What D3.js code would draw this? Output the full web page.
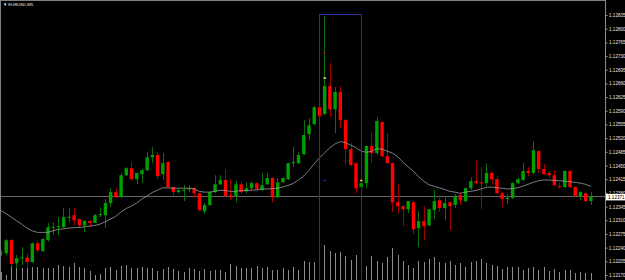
<!DOCTYPE html>
<html>
<head>
<meta charset="utf-8">
<script src="https://cdn.jsdelivr.net/npm/d3@7"></script>
<style>
  body { margin: 0; background: #000; }
  svg { display: block; }
</style>
</head>
<body>
<div id="chart"></div>
<script>
var width = 625,
    height = 280,
    axisX = 605;

// EURUSD M5 bars, oldest first
var open = [1.12226,1.12226,1.12259,1.12200,1.12213,1.12215,1.12203,1.12251,1.12231,1.12259,
1.12292,1.12292,1.12292,1.12318,1.12323,1.12313,1.12297,1.12308,1.12303,1.12323,
1.12323,1.12354,1.12382,1.12369,1.12425,1.12443,1.12415,1.12428,1.12438,1.12471,
1.12477,1.12428,1.12459,1.12395,1.12382,1.12387,1.12390,1.12392,1.12379,1.12333,
1.12349,1.12382,1.12402,1.12413,1.12374,1.12372,1.12402,1.12384,1.12392,1.12405,
1.12387,1.12402,1.12418,1.12369,1.12407,1.12415,1.12456,1.12456,1.12479,1.12530,
1.12556,1.12599,1.12582,1.12653,1.12594,1.12638,1.12566,1.12492,1.12456,1.12395,
1.12405,1.12500,1.12482,1.12561,1.12474,1.12456,1.12356,1.12346,1.12338,1.12356,
1.12290,1.12308,1.12297,1.12336,1.12361,1.12341,1.12356,1.12349,1.12374,1.12359,
1.12392,1.12410,1.12407,1.12405,1.12431,1.12415,1.12379,1.12364,1.12367,1.12405,
1.12413,1.12436,1.12431,1.12487,1.12441,1.12431,1.12425,1.12397,1.12395,1.12436,
1.12395,1.12372,1.12379,1.12359];

var high = [1.12233,1.12262,1.12262,1.12221,1.12241,1.12226,1.12254,1.12259,1.12264,1.12303,
1.12305,1.12318,1.12341,1.12341,1.12343,1.12315,1.12310,1.12310,1.12326,1.12343,
1.12364,1.12392,1.12392,1.12431,1.12446,1.12459,1.12431,1.12441,1.12484,1.12497,
1.12482,1.12482,1.12461,1.12397,1.12390,1.12400,1.12400,1.12395,1.12380,1.12354,
1.12384,1.12425,1.12425,1.12441,1.12415,1.12410,1.12410,1.12407,1.12410,1.12407,
1.12431,1.12431,1.12420,1.12418,1.12420,1.12456,1.12497,1.12484,1.12566,1.12571,
1.12602,1.12602,1.12832,1.12712,1.12651,1.12653,1.12569,1.12507,1.12458,1.12425,
1.12502,1.12535,1.12574,1.12564,1.12533,1.12458,1.12402,1.12349,1.12359,1.12361,
1.12333,1.12346,1.12338,1.12387,1.12374,1.12372,1.12358,1.12377,1.12379,1.12395,
1.12420,1.12464,1.12446,1.12456,1.12433,1.12425,1.12384,1.12377,1.12407,1.12420,
1.12456,1.12446,1.12512,1.12489,1.12454,1.12436,1.12438,1.12407,1.12438,1.12438,
1.12397,1.12384,1.12382,1.12382];

var low = [1.12218,1.12221,1.12192,1.12187,1.12195,1.12190,1.12200,1.12228,1.12228,1.12256,
1.12274,1.12272,1.12290,1.12305,1.12297,1.12290,1.12279,1.12292,1.12303,1.12318,
1.12290,1.12343,1.12367,1.12369,1.12423,1.12413,1.12402,1.12405,1.12436,1.12456,
1.12415,1.12413,1.12395,1.12372,1.12379,1.12359,1.12382,1.12369,1.12333,1.12326,
1.12346,1.12379,1.12400,1.12369,1.12361,1.12356,1.12379,1.12379,1.12387,1.12384,
1.12384,1.12400,1.12356,1.12367,1.12405,1.12413,1.12446,1.12454,1.12477,1.12515,
1.12553,1.12574,1.12579,1.12574,1.12533,1.12546,1.12451,1.12448,1.12379,1.12392,
1.12392,1.12456,1.12477,1.12471,1.12454,1.12331,1.12328,1.12295,1.12328,1.12274,
1.12241,1.12259,1.12295,1.12313,1.12331,1.12310,1.12285,1.12341,1.12349,1.12356,
1.12387,1.12402,1.12338,1.12397,1.12400,1.12377,1.12343,1.12351,1.12364,1.12402,
1.12410,1.12423,1.12428,1.12431,1.12425,1.12418,1.12397,1.12392,1.12392,1.12392,
1.12369,1.12361,1.12356,1.12349];

var close = [1.12226,1.12259,1.12198,1.12213,1.12215,1.12203,1.12251,1.12233,1.12262,1.12292,
1.12293,1.12295,1.12318,1.12319,1.12310,1.12297,1.12308,1.12303,1.12323,1.12326,
1.12354,1.12382,1.12369,1.12425,1.12443,1.12415,1.12431,1.12438,1.12471,1.12477,
1.12423,1.12456,1.12395,1.12382,1.12387,1.12388,1.12391,1.12379,1.12336,1.12349,
1.12382,1.12402,1.12413,1.12372,1.12369,1.12402,1.12382,1.12392,1.12405,1.12390,
1.12400,1.12418,1.12369,1.12407,1.12418,1.12456,1.12459,1.12477,1.12528,1.12553,
1.12599,1.12576,1.12653,1.12594,1.12638,1.12566,1.12492,1.12451,1.12392,1.12405,
1.12500,1.12482,1.12564,1.12474,1.12456,1.12356,1.12346,1.12338,1.12359,1.12287,
1.12308,1.12295,1.12338,1.12359,1.12341,1.12354,1.12346,1.12372,1.12361,1.12392,
1.12410,1.12405,1.12405,1.12431,1.12415,1.12379,1.12364,1.12367,1.12405,1.12415,
1.12436,1.12431,1.12489,1.12441,1.12428,1.12425,1.12400,1.12395,1.12436,1.12395,
1.12372,1.12382,1.12359,1.12371];

var volume = [80,50,140,120,120,120,130,130,120,120,
120,150,140,130,170,130,120,90,50,60,
120,130,100,140,150,120,120,130,120,120,
90,110,130,110,90,80,120,110,90,110,
90,100,100,80,160,140,120,120,120,140,
120,130,100,100,120,100,130,100,190,180,
180,120,350,290,270,280,240,200,250,150,
140,240,190,170,230,320,250,190,150,120,
190,180,210,230,180,170,190,150,170,130,
180,190,210,170,150,140,110,130,130,130,
100,120,130,100,130,90,110,80,100,100,
70,80,70,70];

// moving average line
var ma = [1.12335,1.12327,1.12318,1.12309,1.12300,1.12290,1.12283,1.12279,1.12279,1.12279,
1.12283,1.12287,1.12288,1.12290,1.12291,1.12292,1.12293,1.12295,1.12297,1.12300,
1.12306,1.12313,1.12320,1.12331,1.12340,1.12346,1.12354,1.12364,1.12372,1.12381,
1.12387,1.12393,1.12393,1.12392,1.12392,1.12392,1.12392,1.12391,1.12384,1.12382,
1.12382,1.12384,1.12387,1.12386,1.12384,1.12384,1.12386,1.12386,1.12387,1.12388,
1.12390,1.12390,1.12391,1.12392,1.12395,1.12399,1.12404,1.12413,1.12423,1.12437,
1.12454,1.12469,1.12482,1.12495,1.12505,1.12511,1.12509,1.12502,1.12496,1.12487,
1.12484,1.12486,1.12493,1.12492,1.12487,1.12482,1.12473,1.12459,1.12447,1.12436,
1.12422,1.12410,1.12401,1.12397,1.12393,1.12389,1.12384,1.12382,1.12379,1.12382,
1.12384,1.12386,1.12390,1.12394,1.12395,1.12393,1.12392,1.12390,1.12391,1.12393,
1.12397,1.12402,1.12407,1.12411,1.12413,1.12413,1.12412,1.12411,1.12410,1.12409,
1.12407,1.12405,1.12402,1.12397];

var priceTicks = [1.12835,1.12800,1.12765,1.12730,1.12695,1.12660,1.12625,1.12590,1.12555,1.12520,
1.12485,1.12450,1.12415,1.12380,1.12345,1.12310,1.12275,1.12240,1.12205,1.12170];

var bid = 1.12371;
var symbol = "EURUSD,M5";

// rectangle object: bar index range and price range
var rectBars = [62, 70];
var rectPrices = [1.12837, 1.12150];

// small trade marks: bar, price, colour
var markBars = [63, 63, 63, 70];
var markPrices = [1.12737, 1.12673, 1.12411, 1.12411];
var markColors = ["#c00000", "#ffd0d0", "#2020c0", "#ffb060"];

var svg = d3.select("#chart").append("svg")
    .attr("width", width)
    .attr("height", height)
    .style("background", "#000");

var x = d3.scaleLinear().domain([1, 114]).range([0.8, 590.7]);
var y = d3.scaleLinear().domain([1.12170, 1.12835]).range([275, 15]);
var vy = d3.scaleLinear().domain([0, 400]).range([280, 240]);

var idx = d3.range(open.length);
var px = function(i) { return Math.round(x(i + 1)) + 0.5; };

// volumes
svg.append("g")
    .selectAll("line")
    .data(idx)
    .enter().append("line")
    .attr("x1", px).attr("x2", px)
    .attr("y1", vy(0))
    .attr("y2", function(i) { return vy(volume[i]); })
    .attr("stroke", "#8c8c8c")
    .attr("stroke-width", 1);

// bid line
svg.append("line")
    .attr("x1", 0).attr("x2", axisX)
    .attr("y1", Math.round(y(bid)) + 0.5).attr("y2", Math.round(y(bid)) + 0.5)
    .attr("stroke", "#666666")
    .attr("stroke-width", 1);

var up = function(i) { return close[i] >= open[i]; };

// wicks
svg.append("g")
    .selectAll("line")
    .data(idx)
    .enter().append("line")
    .attr("x1", px).attr("x2", px)
    .attr("y1", function(i) { return y(high[i]); })
    .attr("y2", function(i) { return y(low[i]); })
    .attr("stroke", function(i) { return up(i) ? "#0a700a" : "#a00000"; })
    .attr("stroke-width", 1);

// bodies
var bw = 3.4;
svg.append("g")
    .selectAll("rect")
    .data(idx)
    .enter().append("rect")
    .attr("x", function(i) { return x(i + 1) - bw / 2 + 0.2; })
    .attr("width", bw)
    .attr("y", function(i) { return y(Math.max(open[i], close[i])); })
    .attr("height", function(i) { return Math.max(1, Math.abs(y(open[i]) - y(close[i]))); })
    .attr("fill", function(i) { return up(i) ? "#00a000" : "#ff0000"; });

// moving average
svg.append("path")
    .datum(idx)
    .attr("d", d3.line()
        .x(function(i) { return x(i + 1); })
        .y(function(i) { return y(ma[i]); }))
    .attr("fill", "none")
    .attr("stroke", "#9c9c9c")
    .attr("stroke-width", 0.8);

// rectangle
svg.append("rect")
    .attr("x", Math.round(x(rectBars[0])) + 0.5)
    .attr("y", Math.round(y(rectPrices[0])) + 0.5)
    .attr("width", Math.round(x(rectBars[1]) - x(rectBars[0])))
    .attr("height", y(rectPrices[1]) - y(rectPrices[0]))
    .attr("fill", "none")
    .attr("stroke", "#2c2ca4")
    .attr("stroke-width", 1);

// trade marks
svg.append("g")
    .selectAll("rect")
    .data(markBars)
    .enter().append("rect")
    .attr("x", function(d) { return x(d) - 1; })
    .attr("y", function(d, i) { return y(markPrices[i]) - 1; })
    .attr("width", 2.5)
    .attr("height", 1.5)
    .attr("fill", function(d, i) { return markColors[i]; });

// price axis
var axis = d3.axisRight(y)
    .tickValues(priceTicks)
    .tickFormat(d3.format(".5f"))
    .tickSize(2)
    .tickPadding(1.5);

var ga = svg.append("g")
    .attr("transform", "translate(" + (axisX + 0.5) + ",0)")
    .call(axis);
ga.select(".domain").remove();
ga.selectAll(".tick line").attr("stroke", "#9a9a9a");
ga.selectAll(".tick text")
    .attr("fill", "#e4e4e4")
    .style("font-family", "Liberation Sans, Arial, sans-serif")
    .style("font-size", "4.6px");

svg.append("line")
    .attr("x1", axisX + 0.5).attr("x2", axisX + 0.5)
    .attr("y1", 0).attr("y2", height)
    .attr("stroke", "#8c8c8c")
    .attr("stroke-width", 1);

// bid label
svg.append("rect")
    .attr("x", axisX + 1)
    .attr("y", y(bid) - 2.5)
    .attr("width", width - axisX - 1)
    .attr("height", 6.5)
    .attr("fill", "#ffffff");
svg.append("text")
    .attr("x", axisX + 3)
    .attr("y", y(bid) + 2.2)
    .attr("fill", "#000")
    .style("font-family", "Liberation Sans, Arial, sans-serif")
    .style("font-size", "4.6px")
    .text(d3.format(".5f")(bid));

// frame
svg.append("line")
    .attr("x1", 0).attr("x2", axisX)
    .attr("y1", 0.5).attr("y2", 0.5)
    .attr("stroke", "#808080");
svg.append("line")
    .attr("x1", 0.5).attr("x2", 0.5)
    .attr("y1", 0).attr("y2", height)
    .attr("stroke", "#808080");

// title
svg.append("text")
    .attr("x", 3)
    .attr("y", 5.8)
    .attr("fill", "#ececec")
    .style("font-family", "Liberation Sans, Arial, sans-serif")
    .style("font-size", "4.2px")
    .text("\u25BC " + symbol);
</script>
</body>
</html>
